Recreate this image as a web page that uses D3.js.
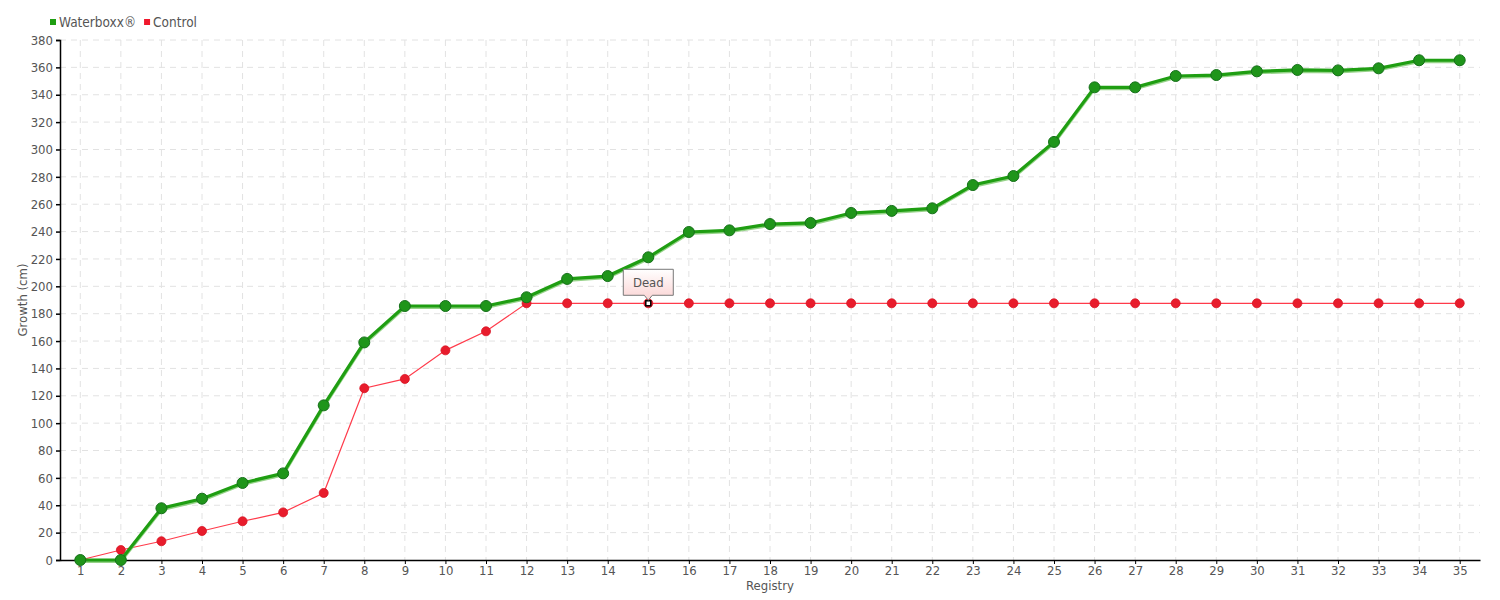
<!DOCTYPE html>
<html>
<head>
<meta charset="utf-8">
<script src="https://cdn.jsdelivr.net/npm/d3@7"></script>
<style>
  body { margin: 0; background: #fff; }
  text { font-family: "DejaVu Sans Condensed", "DejaVu Sans", sans-serif; fill: #555; }
</style>
</head>
<body>
<svg id="chart" width="1500" height="600"></svg>
<script>
const categories = d3.range(1, 36).map(String);
const waterboxx = [0, 0, 37.8, 44.8, 56.3, 63.3, 113, 159, 185.6, 185.6, 185.6, 192, 205.4, 207.5, 221.2, 239.7, 240.9, 245.5, 246.3, 253.6, 255.1, 257, 274, 280.6, 305.5, 345.4, 345.4, 353.7, 354.4, 357.1, 358.1, 357.8, 359.3, 365.2, 365.2];
const control = [0, 7.3, 13.7, 21.2, 28.3, 34.8, 49, 125.5, 132.3, 153.2, 167.1, 187.6, 187.6, 187.6, 187.6, 187.6, 187.6, 187.6, 187.6, 187.6, 187.6, 187.6, 187.6, 187.6, 187.6, 187.6, 187.6, 187.6, 187.6, 187.6, 187.6, 187.6, 187.6, 187.6, 187.6];
const yTicks = d3.range(0, 381, 20);
const seriesNames = ["Waterboxx®", "Control"];
const annotation = { label: "Dead", category: "15" };

const svg = d3.select("#chart");
const m = { left: 60, right: 20, top: 40, bottom: 40 };
const W = 1500, H = 600;

const x = d3.scalePoint().domain(categories).range([m.left, W - m.right]).padding(0.5);
const y = d3.scaleLinear().domain([0, 380]).range([H - m.bottom, m.top]);

// grid
const grid = svg.append("g");
grid.selectAll(".hg").data(yTicks.filter(d => d > 0)).enter().append("line")
  .attr("x1", m.left).attr("x2", W - m.right)
  .attr("y1", d => y(d)).attr("y2", d => y(d))
  .attr("stroke", "#e2e2e2").attr("stroke-dasharray", "6,5").attr("stroke-width", 1);
grid.selectAll(".vg").data(categories).enter().append("line")
  .attr("x1", d => x(d)).attr("x2", d => x(d))
  .attr("y1", m.top).attr("y2", H - m.bottom)
  .attr("stroke", "#e2e2e2").attr("stroke-dasharray", "6,5").attr("stroke-width", 1);

// axes
const yAxis = svg.append("g").attr("transform", `translate(${m.left},0)`)
  .call(d3.axisLeft(y).tickValues(yTicks).tickSize(4).tickPadding(3));
yAxis.select(".domain").attr("stroke", "#000").attr("stroke-width", 1.5);
yAxis.selectAll(".tick line").attr("stroke", "#000").attr("stroke-width", 1.5);
yAxis.selectAll("text").style("font-size", "13px").attr("fill", "#555");

const xAxis = svg.append("g").attr("transform", `translate(0,${H - m.bottom})`)
  .call(d3.axisBottom(x).tickSize(4).tickSizeOuter(0).tickPadding(2));
xAxis.select(".domain").attr("stroke", "#000").attr("stroke-width", 1.5);
xAxis.selectAll(".tick line").attr("stroke", "#000");
xAxis.selectAll("text").style("font-size", "13px").attr("fill", "#555");

// axis titles
svg.append("text").attr("transform", `translate(27,${(m.top + H - m.bottom) / 2}) rotate(-90)`)
  .attr("text-anchor", "middle").style("font-size", "13px").text("Growth (cm)");
svg.append("text").attr("x", (m.left + W - m.right) / 2).attr("y", 590)
  .attr("text-anchor", "middle").style("font-size", "13px").text("Registry");

const line = d3.line().x((d, i) => x(categories[i])).y(d => y(d));

// control series
svg.append("path").datum(control).attr("d", line)
  .attr("fill", "none").attr("stroke", "#ff3b4b").attr("stroke-width", 1.2);
svg.selectAll(".cp").data(control).enter().append("circle")
  .attr("cx", (d, i) => x(categories[i])).attr("cy", d => y(d)).attr("r", 4.5)
  .attr("fill", "#e81c2c").attr("stroke", "#d81525").attr("stroke-width", 0.8);

// waterboxx series
svg.append("path").datum(waterboxx).attr("d", line)
  .attr("transform", "translate(0,1.5)")
  .attr("fill", "none").attr("stroke", "#7cc86c").attr("stroke-width", 3).attr("opacity", 0.8);
svg.append("path").datum(waterboxx).attr("d", line)
  .attr("fill", "none").attr("stroke", "#1f9e12").attr("stroke-width", 3.2);
svg.selectAll(".wp").data(waterboxx).enter().append("circle")
  .attr("cx", (d, i) => x(categories[i])).attr("cy", d => y(d)).attr("r", 5.5)
  .attr("fill", "#1f951a").attr("stroke", "#16701a").attr("stroke-width", 1);

// annotation
const ai = categories.indexOf(annotation.category);
const ax = x(annotation.category), ay = y(control[ai]);
svg.append("rect").attr("x", ax - 2.5).attr("y", ay - 2.5).attr("width", 5).attr("height", 5)
  .attr("fill", "#fff").attr("stroke", "#000").attr("stroke-width", 1.5);
const defs = svg.append("defs");
const grad = defs.append("linearGradient").attr("id", "tipg").attr("x1", 0).attr("y1", 0).attr("x2", 0).attr("y2", 1);
grad.append("stop").attr("offset", "0%").attr("stop-color", "#ffffff");
grad.append("stop").attr("offset", "100%").attr("stop-color", "#fbd3d3");
const bw = 50, bh = 26, bx = ax - 25, by = ay - 34;
svg.append("path")
  .attr("d", `M${bx},${by} H${bx + bw} V${by + bh} H${ax + 4} L${ax},${by + bh + 5} L${ax - 4},${by + bh} H${bx} Z`)
  .attr("fill", "url(#tipg)").attr("stroke", "#777").attr("stroke-width", 1);
svg.append("text").attr("x", ax).attr("y", by + 18).attr("text-anchor", "middle")
  .style("font-size", "13px").text(annotation.label);

// legend
const legendColors = ["#1f9e12", "#f0182c"];
const lg = svg.append("g");
let lx = 50;
seriesNames.forEach((name, i) => {
  lg.append("rect").attr("x", lx).attr("y", 19).attr("width", 6).attr("height", 6).attr("fill", legendColors[i]);
  const t = lg.append("text").attr("x", lx + 9).attr("y", 27).style("font-size", "13.5px").text(name);
  lx += 9 + t.node().getComputedTextLength() + 8;
});
</script>
</body>
</html>
